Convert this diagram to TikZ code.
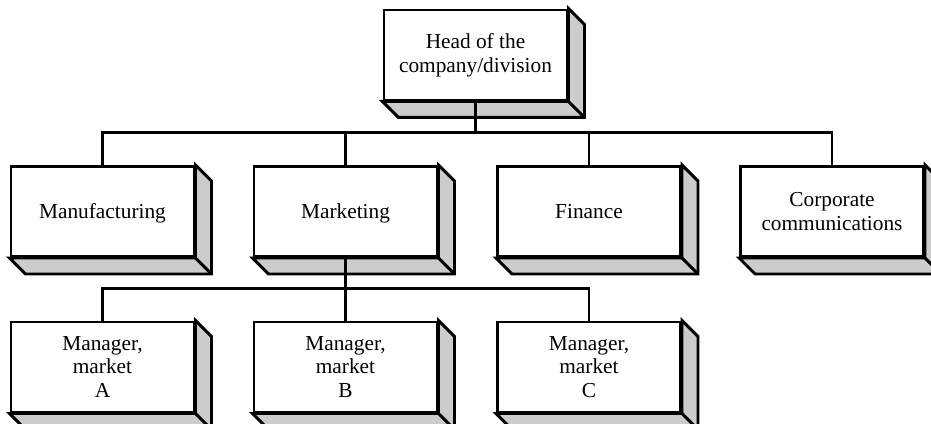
\documentclass[tikz,border=0pt]{standalone}
\usepackage{fontspec}
\setmainfont{Liberation Serif}
\usetikzlibrary{calc}

\def\boxdepth{16}

\begin{document}
\begin{tikzpicture}[x=0.75pt,y=-0.75pt]
    \tikzstyle{unit}=[rectangle,draw=black,line width=2.2pt,fill=white,minimum width=137.25pt,minimum height=67.5pt,inner sep=0pt,align=center,font=\fontsize{16}{17.8}\selectfont]
    \tikzstyle{single unit}=[unit,text height=10.6pt,text depth=0pt]
    \tikzstyle{side}=[draw=black,line width=2.2pt,fill=black!20]
    \tikzstyle{link}=[draw=black,line width=1.6pt]

    \useasboundingbox (0,0) rectangle (931,424);
    \clip (0,0) rectangle (931,424);

    % Draw the head of the company
    \node[unit] (head) at (475.5,55) {Head of the\\company/division};

    % Draw the department nodes
    \node[single unit] (mfg) at (102.5,211.5) {Manufacturing};
    \node[single unit] (mkt) at (345.5,211.5) {Marketing};
    \node[single unit] (fin) at (589,211.5) {Finance};
    \node[unit] (corp) at (832,211.5) {Corporate\\communications};

    % Draw the market managers under marketing
    \foreach \m / \x in {A/102.5,B/345.5,C/589}
        \node[unit] (m\m) at (\x,367) {Manager,\\market\\\m};

    % Give every box its shaded bottom and right side
    \foreach \name in {head,mfg,mkt,fin,corp,mA,mB,mC} {
        \filldraw[side] (\name.south west) -- ++(\boxdepth,\boxdepth)
            -- ($(\name.south east)+(\boxdepth,\boxdepth)$)
            -- ($(\name.north east)+(\boxdepth,\boxdepth)$)
            -- (\name.north east) -- (\name.south east) -- cycle;
        \draw[side] (\name.south east) -- ++(\boxdepth,\boxdepth);
    }

    % Connect the head with the departments
    \coordinate (upbus) at (475.5,132.5);
    \draw[link] (head.south) -- (upbus);
    \foreach \name in {mfg,mkt,fin,corp}
        \draw[link] (\name.north) |- (upbus);

    % Connect marketing with the managers
    \coordinate (lowbus) at (345.5,288.5);
    \draw[link] (mkt.south) -- (lowbus);
    \foreach \m in {A,B,C}
        \draw[link] (m\m.north) |- (lowbus);

\end{tikzpicture}
\end{document}
